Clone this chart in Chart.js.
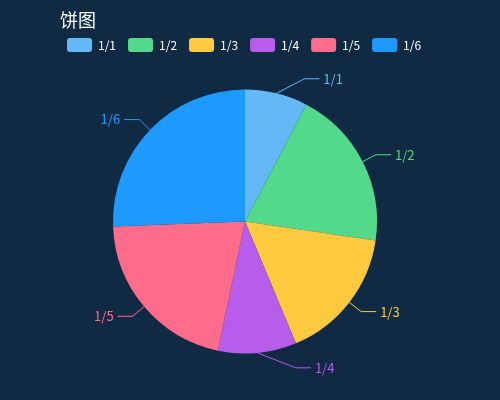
<!DOCTYPE html>
<html lang="zh">
<head>
  <meta charset="UTF-8">
  <title>饼图</title>
  <script src="https://cdn.jsdelivr.net/npm/chart.js"></script>
  <style>
    html, body { margin: 0; padding: 0; background: #0f2a42; }
  </style>
</head>
<body>
  <div style="width: 500px; height: 400px;">
    <canvas id="pie"></canvas>
  </div>

  <script>
    // chart data
    const chartTitle = '饼图';
    const labels = ['1/1', '1/2', '1/3', '1/4', '1/5', '1/6'];
    const values = [77, 196, 164, 96, 211, 256];
    const colors = ['#65b8f8', '#52d98b', '#ffca40', '#b75ceb', '#ff6c8b', '#1e9aff'];

    const FONT = "'Noto Sans CJK SC', 'Noto Sans', sans-serif";

    // title in the top left corner
    const titlePlugin = {
      id: 'cornerTitle',
      afterDraw(chart) {
        const ctx = chart.ctx;
        ctx.save();
        ctx.fillStyle = '#ffffff';
        ctx.font = '18px ' + FONT;
        ctx.textAlign = 'left';
        ctx.textBaseline = 'middle';
        ctx.fillText(chartTitle, 60, 20);
        ctx.restore();
      }
    };

    // outside labels with leader lines
    const labelLines = {
      id: 'labelLines',
      afterDatasetsDraw(chart) {
        const ctx = chart.ctx;
        const meta = chart.getDatasetMeta(0);
        ctx.save();
        ctx.font = '13px ' + FONT;
        ctx.lineWidth = 1;
        meta.data.forEach((arc, i) => {
          const p = arc.getProps(['x', 'y', 'startAngle', 'endAngle', 'outerRadius'], true);
          const mid = (p.startAngle + p.endAngle) / 2;
          const r = p.outerRadius;
          const cos = Math.cos(mid), sin = Math.sin(mid);
          const side = cos >= 0 ? 1 : -1;
          const x0 = p.x + cos * r, y0 = p.y + sin * r;
          const rA = r + 15;
          const dy = sin * rA;
          let dx = Math.abs(cos) * rA;
          // labels near the top / bottom get pushed sideways
          if (Math.abs(sin) > 0.85) {
            const rB = r + 24;
            dx = rA * Math.sqrt(Math.max(0, 1 - (dy * dy) / (rB * rB)));
          }
          const x1 = p.x + side * dx, y1 = p.y + dy;
          const x2 = x1 + side * 15;
          ctx.strokeStyle = colors[i];
          ctx.beginPath();
          ctx.moveTo(x0, y0);
          ctx.lineTo(x1, y1);
          ctx.lineTo(x2, y1);
          ctx.stroke();
          ctx.fillStyle = colors[i];
          ctx.textAlign = side > 0 ? 'left' : 'right';
          ctx.textBaseline = 'middle';
          ctx.fillText(labels[i], x2 + side * 4, y1);
        });
        ctx.restore();
      }
    };

    const ctx = document.getElementById('pie').getContext('2d');
    new Chart(ctx, {
      type: 'pie',
      data: {
        labels: labels,
        datasets: [{
          data: values,
          backgroundColor: colors,
          borderWidth: 0,
          hoverOffset: 0
        }]
      },
      options: {
        responsive: true,
        maintainAspectRatio: false,
        animation: false,
        radius: 132,
        layout: {
          padding: { left: 55, right: 65, top: 26, bottom: 19 }
        },
        plugins: {
          legend: {
            position: 'top',
            align: 'start',
            labels: {
              color: '#ffffff',
              font: { family: FONT, size: 12 },
              boxWidth: 25,
              boxHeight: 14,
              useBorderRadius: true,
              borderRadius: 3,
              padding: 12
            }
          },
          tooltip: { enabled: false }
        }
      },
      plugins: [titlePlugin, labelLines]
    });
  </script>
</body>
</html>
